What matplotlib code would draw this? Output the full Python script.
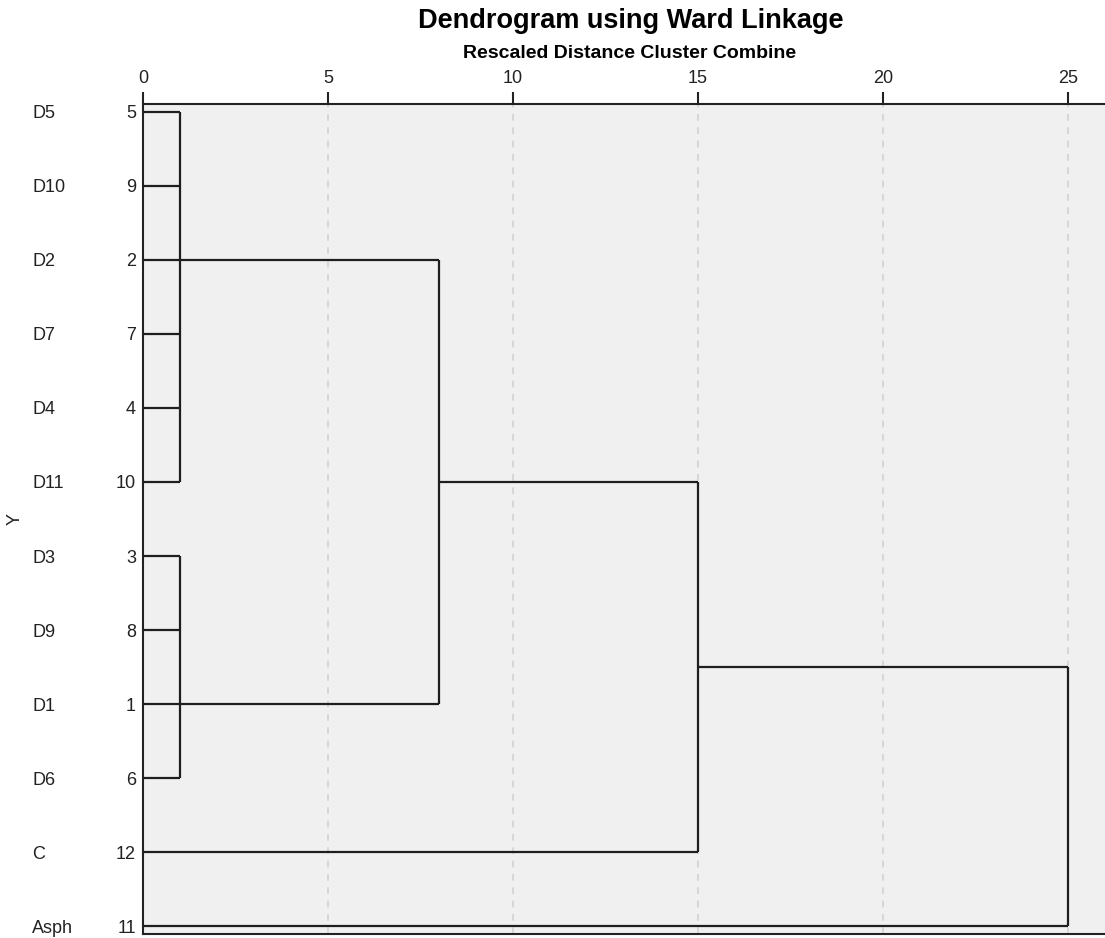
import matplotlib.pyplot as plt
from matplotlib.transforms import blended_transform_factory

plt.rcParams['font.family'] = ['Liberation Sans', 'DejaVu Sans']

# leaves in dendrogram order (top to bottom)
leaf_names = ['D5', 'D10', 'D2', 'D7', 'D4', 'D11', 'D3', 'D9', 'D1', 'D6', 'C', 'Asph']
case_ids = [5, 9, 2, 7, 4, 10, 3, 8, 1, 6, 12, 11]

# merges: (child nodes, rescaled distance, row where the joined branch leaves)
# node ids 0..11 are leaves, new nodes get 12, 13, ...
merges = [
    ([0, 1, 2, 3, 4, 5], 1, 2),
    ([6, 7, 8, 9], 1, 8),
    ([12, 13], 8, 5),
    ([14, 10], 15, 7.5),
    ([15, 11], 25, None),
]

x_ticks = [0, 5, 10, 15, 20, 25]

fig = plt.figure(figsize=(11.05, 9.38), dpi=100)
ax = fig.add_axes([143 / 1105, 4 / 938, 1 - 143 / 1105, 830 / 938])
ax.set_facecolor('#f0f0f0')

n = len(leaf_names)
node_height = {i: 0.0 for i in range(n)}
node_row = {i: float(i) for i in range(n)}

line_kw = dict(color='#1e1e1e', lw=1.6, solid_capstyle='butt', zorder=3)
for k, (children, h, out_row) in enumerate(merges):
    rows = [node_row[c] for c in children]
    for c in children:
        ax.plot([node_height[c], h], [node_row[c], node_row[c]], **line_kw)
    ax.plot([h, h], [min(rows), max(rows)], **line_kw)
    node_height[n + k] = h
    node_row[n + k] = out_row

ax.set_xlim(0, 26)
ax.set_ylim(n - 1 + 0.108, -0.108)

ax.xaxis.tick_top()
ax.set_xticks(x_ticks)
ax.tick_params(axis='x', direction='out', length=9, width=1.5, color='#222222',
               labelsize=13, pad=3, labelcolor='#222222')
for t in x_ticks[1:]:
    ax.axvline(t, color='#d2d2d2', lw=1.2, ls=(0, (4, 4)), zorder=1)

ax.set_yticks(range(n))
ax.set_yticklabels([str(c) for c in case_ids])
ax.tick_params(axis='y', length=0, labelsize=13, pad=5, labelcolor='#222222')
name_trans = blended_transform_factory(fig.transFigure, ax.transData)
for i, name in enumerate(leaf_names):
    ax.text(32 / 1105, i, name, transform=name_trans,
            ha='left', va='center_baseline', fontsize=13, color='#222222')

ax.spines['right'].set_visible(False)
for side in ['top', 'bottom', 'left']:
    ax.spines[side].set_linewidth(1.5)
    ax.spines[side].set_color('#222222')

fig.text(15 / 1105, 1 - 519 / 938, 'Y', rotation=90,
         ha='center', va='center', fontsize=13, color='#222222')

fig.text(631 / 1105, 1 - 28 / 938, 'Dendrogram using Ward Linkage', ha='center',
         va='baseline', fontsize=19.5, fontweight='bold')
fig.text(630 / 1105, 1 - 58 / 938, 'Rescaled Distance Cluster Combine', ha='center',
         va='baseline', fontsize=14, fontweight='bold')

plt.savefig('out.png', dpi=100)
plt.close()
